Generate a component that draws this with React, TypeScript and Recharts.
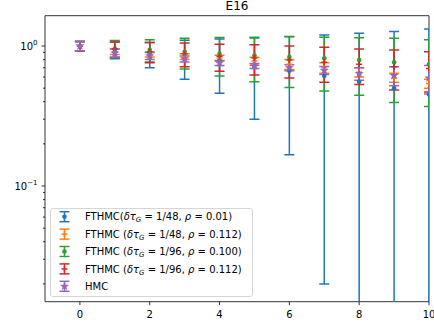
import React from 'react';
import { ScatterChart, Scatter, XAxis, YAxis, ErrorBar, ReferenceArea, Legend } from 'recharts';

// trajectory step index
const steps = [0, 1, 2, 3, 4, 5, 6, 7, 8, 9, 10];

// FTHMC (dtau_G = 1/48, rho = 0.01)
const fthmc48a = [1.0, 0.94, 0.88, 0.84, 0.79, 0.72, 0.667, 0.61, 0.556, 0.5, 0.45];
const fthmc48aErr = [0.075, 0.13, 0.18, 0.26, 0.33, 0.42, 0.5, 0.59, 0.675, 0.77, 0.87];

// FTHMC (dtau_G = 1/48, rho = 0.112)
const fthmc48b = [1.0, 0.91, 0.87, 0.84, 0.82, 0.78, 0.74, 0.7, 0.65, 0.594, 0.54];
const fthmc48bErr = [0.075, 0.04, 0.035, 0.04, 0.04, 0.05, 0.06, 0.06, 0.05, 0.044, 0.04];

// FTHMC (dtau_G = 1/96, rho = 0.100)
const fthmc96a = [1.0, 0.96, 0.94, 0.91, 0.88, 0.855, 0.835, 0.817, 0.794, 0.765, 0.74];
const fthmc96aErr = [0.075, 0.135, 0.17, 0.225, 0.27, 0.3, 0.33, 0.34, 0.35, 0.37, 0.37];

// FTHMC (dtau_G = 1/96, rho = 0.112)
const fthmc96b = [1.0, 0.95, 0.91, 0.88, 0.845, 0.82, 0.795, 0.765, 0.74, 0.71, 0.69];
const fthmc96bErr = [0.075, 0.12, 0.15, 0.17, 0.185, 0.2, 0.205, 0.215, 0.21, 0.225, 0.22];

// HMC
const hmc = [1.0, 0.89, 0.85, 0.81, 0.757, 0.72, 0.7, 0.67, 0.635, 0.615, 0.59];
const hmcErr = [0.075, 0.06, 0.05, 0.04, 0.03, 0.03, 0.035, 0.045, 0.065, 0.095, 0.135];

const xTicks = [0, 2, 4, 6, 8, 10];
const yMajorTicks = [0.1, 1];
const yMinorTicks = [0.02, 0.03, 0.04, 0.05, 0.06, 0.07, 0.08, 0.09, 0.2, 0.3, 0.4, 0.5, 0.6, 0.7, 0.8, 0.9];

const X_MIN = -1;
const X_MAX = 10;
const Y_MIN = 0.01492;
const Y_MAX = 1.646;

const FONT = '"DejaVu Sans", sans-serif';

// plot box in pixels (used for clipping marks like matplotlib does)
const PLOT = { left: 45, top: 15.7, width: 384, height: 286 };

type Marker = 'dot' | 'plus' | 'star';

const series = [
  { key: 'a', label: { prefix: 'FTHMC(', dtau: '1/48', rho: '0.01' }, color: '#1f77b4', marker: 'dot' as Marker, values: fthmc48a, errors: fthmc48aErr },
  { key: 'b', label: { prefix: 'FTHMC (', dtau: '1/48', rho: '0.112' }, color: '#ff7f0e', marker: 'plus' as Marker, values: fthmc48b, errors: fthmc48bErr },
  { key: 'c', label: { prefix: 'FTHMC (', dtau: '1/96', rho: '0.100' }, color: '#2ca02c', marker: 'dot' as Marker, values: fthmc96a, errors: fthmc96aErr },
  { key: 'd', label: { prefix: 'FTHMC (', dtau: '1/96', rho: '0.112' }, color: '#d62728', marker: 'plus' as Marker, values: fthmc96b, errors: fthmc96bErr },
  { key: 'e', label: null, color: '#9467bd', marker: 'star' as Marker, values: hmc, errors: hmcErr },
];

// a log axis cannot show a non-positive lower end; push it below the axis so it is clipped
const toPoints = (values: number[], errors: number[]) =>
  steps.map((s, i) => ({
    x: s,
    y: values[i],
    err: [Math.min(errors[i], values[i] * 0.99), errors[i]],
  }));

function starPath(cx: number, cy: number, r: number) {
  const pts: string[] = [];
  for (let i = 0; i < 10; i++) {
    const rr = i % 2 === 0 ? r : r * 0.42;
    const a = -Math.PI / 2 + (i * Math.PI) / 5;
    pts.push(`${cx + rr * Math.cos(a)},${cy + rr * Math.sin(a)}`);
  }
  return pts.join(' ');
}

function MarkerGlyph({ cx, cy, color, marker }: { cx: number; cy: number; color: string; marker: Marker }) {
  if (marker === 'plus') {
    return (
      <g stroke={color} strokeWidth={1.5}>
        <line x1={cx - 3} x2={cx + 3} y1={cy} y2={cy} />
        <line x1={cx} x2={cx} y1={cy - 3} y2={cy + 3} />
      </g>
    );
  }
  if (marker === 'star') {
    return <polygon points={starPath(cx, cy, 4.8)} fill={color} />;
  }
  return <circle cx={cx} cy={cy} r={2.3} fill={color} />;
}

function YTick(props: any) {
  const { x, y, payload } = props;
  const lg = Math.log10(payload.value);
  const exp = Math.round(lg);
  const major = Math.abs(lg - exp) < 1e-6;
  return (
    <g>
      <line x1={x - (major ? 3.5 : 2)} x2={x} y1={y} y2={y} stroke="#000" strokeWidth={0.8} />
      {major && (
        <text x={x - 7.5} y={y + 3.6} textAnchor="end" fontSize={10} fontFamily={FONT} fill="#000">
          10
          <tspan dy={-4.5} fontSize={7}>{exp < 0 ? '\u2212' + Math.abs(exp) : String(exp)}</tspan>
        </text>
      )}
    </g>
  );
}

function XTick(props: any) {
  const { x, y, payload } = props;
  return (
    <g>
      <line x1={x} x2={x} y1={y} y2={y + 3.5} stroke="#000" strokeWidth={0.8} />
      <text x={x} y={y + 16.3} textAnchor="middle" fontSize={10} fontFamily={FONT} fill="#000">
        {payload.value}
      </text>
    </g>
  );
}

function LegendBox() {
  return (
    <svg width={203} height={89} style={{ display: 'block' }}>
      <rect x={0.5} y={0.5} width={202} height={88} rx={2.5} fill="#fff" fillOpacity={0.8} stroke="#cccccc" strokeWidth={0.8} />
      {series.map((s, i) => {
        const cy = 8.7 + 17.4 * i;
        return (
          <g key={s.key}>
            <g stroke={s.color} strokeWidth={1.5}>
              <line x1={14.5} x2={14.5} y1={cy - 5} y2={cy + 5} />
              <line x1={9.5} x2={19.5} y1={cy - 5} y2={cy - 5} />
              <line x1={9.5} x2={19.5} y1={cy + 5} y2={cy + 5} />
            </g>
            <MarkerGlyph cx={14.5} cy={cy} color={s.color} marker={s.marker} />
            {s.label ? (
              <text x={35} y={cy + 3.6} fontSize={10} fontFamily={FONT} fill="#000">
                {s.label.prefix}
                <tspan fontStyle="italic">{'\u03b4\u03c4'}</tspan>
                <tspan fontStyle="italic" fontSize={7} dy={2}>G</tspan>
                <tspan dy={-2}>{' = ' + s.label.dtau + ', '}</tspan>
                <tspan fontStyle="italic">{'\u03c1'}</tspan>
                {' = ' + s.label.rho + ')'}
              </text>
            ) : (
              <text x={35} y={cy + 3.6} fontSize={10} fontFamily={FONT} fill="#000">
                HMC
              </text>
            )}
          </g>
        );
      })}
    </svg>
  );
}

export default function App() {
  return (
    <div style={{ position: 'absolute', left: 0, top: 0, width: 434, height: 329, background: '#fff' }}>
      <style>{`.recharts-scatter, .recharts-errorBar, .recharts-errorBars { clip-path: url(#plotClip); }`}</style>
      <svg width={0} height={0} style={{ position: 'absolute' }}>
        <defs>
          <clipPath id="plotClip" clipPathUnits="userSpaceOnUse">
            <rect x={PLOT.left} y={PLOT.top} width={PLOT.width} height={PLOT.height} />
          </clipPath>
        </defs>
      </svg>
      <div
        style={{
          position: 'absolute',
          left: 45,
          top: -0.5,
          width: 384,
          textAlign: 'center',
          fontFamily: FONT,
          fontSize: 12,
          lineHeight: '12px',
          color: '#000',
        }}
      >
        E16
      </div>
      <ScatterChart width={434} height={329} margin={{ top: 15.7, right: 5, bottom: 0, left: 0 }}>
        <XAxis
          type="number"
          dataKey="x"
          domain={[X_MIN, X_MAX]}
          ticks={xTicks}
          allowDataOverflow
          axisLine={false}
          tickLine={false}
          tickSize={0}
          tickMargin={0}
          height={27.3}
          interval={0}
          tick={<XTick />}
        />
        <YAxis
          type="number"
          dataKey="y"
          scale="log"
          domain={[Y_MIN, Y_MAX]}
          ticks={[...yMinorTicks, ...yMajorTicks]}
          allowDataOverflow
          axisLine={false}
          tickLine={false}
          tickSize={0}
          tickMargin={0}
          width={45}
          interval={0}
          tick={<YTick />}
        />
        {series.map((s) => (
          <Scatter
            key={s.key}
            name={s.key}
            data={toPoints(s.values, s.errors)}
            fill={s.color}
            isAnimationActive={false}
            shape={(p: any) => <MarkerGlyph cx={p.cx} cy={p.cy} color={s.color} marker={s.marker} />}
          >
            <ErrorBar
              dataKey="err"
              direction="y"
              width={5}
              stroke={s.color}
              strokeWidth={1.5}
              isAnimationActive={false}
            />
          </Scatter>
        ))}
        <ReferenceArea
          x1={X_MIN}
          x2={X_MAX}
          y1={Y_MIN}
          y2={Y_MAX}
          fill="none"
          fillOpacity={0}
          stroke="#000"
          strokeWidth={0.8}
          ifOverflow="visible"
        />
        <Legend
          layout="vertical"
          align="center"
          verticalAlign="middle"
          content={() => <LegendBox />}
          wrapperStyle={{ left: 50, top: 208, width: 203, height: 89 }}
        />
      </ScatterChart>
    </div>
  );
}
